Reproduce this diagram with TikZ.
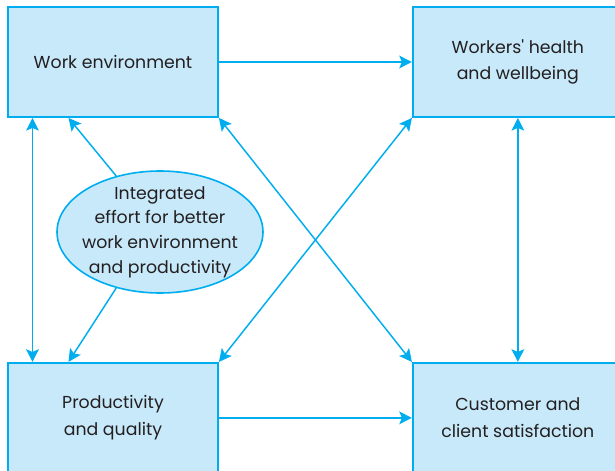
\documentclass[tikz,border=0pt]{standalone}
\usepackage{fontspec}
\setmainfont{Poppins}
\usepackage{tikz}
\definecolor{boxblue}{RGB}{199,233,250}
\definecolor{linecyan}{RGB}{0,174,239}
\definecolor{textgray}{RGB}{35,31,32}
\usetikzlibrary{shapes.geometric, arrows.meta, positioning, calc}

\begin{document}
\begin{tikzpicture}[
        x=0.75pt, y=-0.75pt,
        node distance=183pt and 144.75pt,
        every node/.style={font=\fontsize{13}{20}\selectfont, text=textgray},
        factor/.style={rectangle, minimum width=157.5pt, minimum height=82.5pt, align=center, draw=linecyan, fill=boxblue, line width=1.4pt},
        oval/.style={ellipse, minimum width=154.5pt, minimum height=91.5pt, inner sep=0pt, draw=linecyan, fill=boxblue, line width=1.2pt},
        arrow/.style={line width=1.1pt, -{Stealth[length=9.5pt,width=9.5pt,inset=2pt]}, color=linecyan},
        both/.style={arrow, {Stealth[length=9.5pt,width=9.5pt,inset=2pt]}-{Stealth[length=9.5pt,width=9.5pt,inset=2pt]}}
    ]
        \useasboundingbox (0,0) rectangle (615,471);

        % Boxes
        \node[factor] (we) at (113,62) {Work environment};
        \node[factor, right=of we] (workers) {Workers\textquotesingle{} health\\and wellbeing};
        \node[factor, below=of we] (prod) {Productivity\\and quality};
        \node[factor, below=of workers] (cust) {Customer and\\client satisfaction};

        % Integrated effort
        \node[oval] (effort) at (160,232) {};
        \node[align=center, font=\fontsize{13}{18.5}\selectfont] (effortText) at (effort.center) {Integrated\\effort for better\\work environment\\and productivity};

        % Links
        \draw[arrow] (we.east) -- (workers.west);
        \draw[arrow] (prod.east) -- (cust.west);
        \draw[both] ($(we.south west)!0.12!(we.south east)$) -- ($(prod.north west)!0.12!(prod.north east)$);
        \draw[both] (workers.south) -- (cust.north);
        \draw[both] (we.south east) -- (cust.north west);
        \draw[both] (prod.north east) -- (workers.south west);
        \draw[arrow] (effort.128) -- ($(we.south west)!0.29!(we.south east)$);
        \draw[arrow] (effort.232) -- ($(prod.north west)!0.29!(prod.north east)$);

    \end{tikzpicture}
\end{document}
